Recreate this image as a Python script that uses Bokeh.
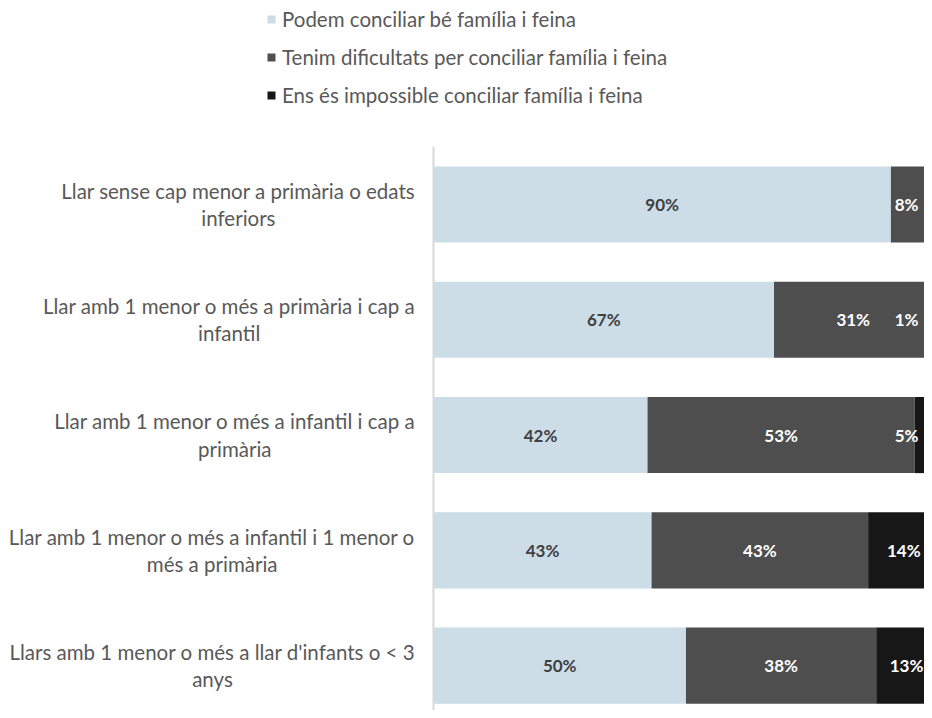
from bokeh.plotting import figure
from bokeh.models import ColumnDataSource, Range1d
from bokeh.core.properties import value
from bokeh.embed import file_html
from bokeh.resources import INLINE

# ---- data ----
categories = [
    "Llar sense cap menor a primària o edats\ninferiors",
    "Llar amb 1 menor o més a primària i cap a\ninfantil",
    "Llar amb 1 menor o més a infantil i cap a\nprimària",
    "Llar amb 1 menor o més a infantil i 1 menor o\nmés a primària",
    "Llars amb 1 menor o més a llar d'infants o < 3\nanys",
]
series_names = [
    "Podem conciliar bé família i feina",
    "Tenim dificultats per conciliar família i feina",
    "Ens és impossible conciliar família i feina",
]
podem = [90.4, 67.3, 42.3, 43.1, 49.9]
tenim = [8.0, 31.3, 52.8, 42.8, 37.6]
impossible = [1.6, 1.4, 4.9, 14.1, 12.6]
show_label_impossible = [False, True, True, True, True]

colors = ["#CCDDE8", "#4E4E4E", "#171717"]
label_colors = ["#404040", "#FFFFFF", "#FFFFFF"]
FONT = "Lato"
TEXT_SIZE = "20.5px"

ypos = [i + 0.5 for i in range(len(categories))]
src = ColumnDataSource(dict(y=ypos, podem=podem, tenim=tenim, imp=impossible))

# frame covers the whole figure; the left part (negative x) holds the labels,
# the top part (negative y) holds the legend
p = figure(width=924, height=710,
           x_range=Range1d(-85.57, 97.04), y_range=Range1d(4.889, -1.269),
           output_backend="svg", toolbar_location=None, tools="",
           x_axis_location=None, y_axis_location=None,
           min_border=0)
p.outline_line_color = None
p.xgrid.visible = False
p.ygrid.visible = False
p.background_fill_color = "white"
p.border_fill_color = "white"

# vertical category axis line at 0 %
p.segment(x0=[0], y0=[0], x1=[0], y1=[len(categories)],
          line_color="#D9D9D9", line_width=2)

p.hbar_stack(["podem", "tenim", "imp"], y="y", height=0.66, color=colors,
             line_color=None, source=src, legend_label=series_names)

# data labels (kept inside the visible chart area, as the original does)
series = [podem, tenim, impossible]
shows = [[True] * len(podem), [True] * len(tenim), show_label_impossible]
lx, ly, lt, lc = [], [], [], []
for j in range(len(categories)):
    left = 0.0
    for s, vals in enumerate(series):
        v = vals[j]
        if shows[s][j]:
            lx.append(min(left + v / 2, 93.5))
            ly.append(ypos[j])
            lt.append(f"{v:.0f}%")
            lc.append(label_colors[s])
        left += v
lsrc = ColumnDataSource(dict(x=lx, y=ly, t=lt, c=lc))
p.text(x="x", y="y", text="t", text_color="c", source=lsrc,
       text_font=value(FONT), text_font_style="bold", text_font_size="17px",
       text_align="center", text_baseline="middle")

# category labels, right-aligned block next to the axis, lines centred
csrc = ColumnDataSource(dict(x=[0] * len(categories), y=ypos, t=categories))
p.text(x="x", y="y", text="t", source=csrc, x_offset=-18,
       anchor="center_right", text_align="center", text_baseline="middle",
       text_font=value(FONT), text_font_size=TEXT_SIZE, text_color="#595959",
       text_line_height=1.14)

lg = p.legend[0]
lg.location = (266, 603)
lg.orientation = "vertical"
lg.glyph_width = 10
lg.glyph_height = 10
lg.label_height = 25
lg.spacing = 13
lg.padding = 0
lg.margin = 0
lg.border_line_color = None
lg.background_fill_alpha = 0
lg.label_text_font = FONT
lg.label_text_font_size = TEXT_SIZE
lg.label_text_color = "#595959"
lg.label_standoff = 6

open("out.html", "w").write(file_html(p, INLINE))
